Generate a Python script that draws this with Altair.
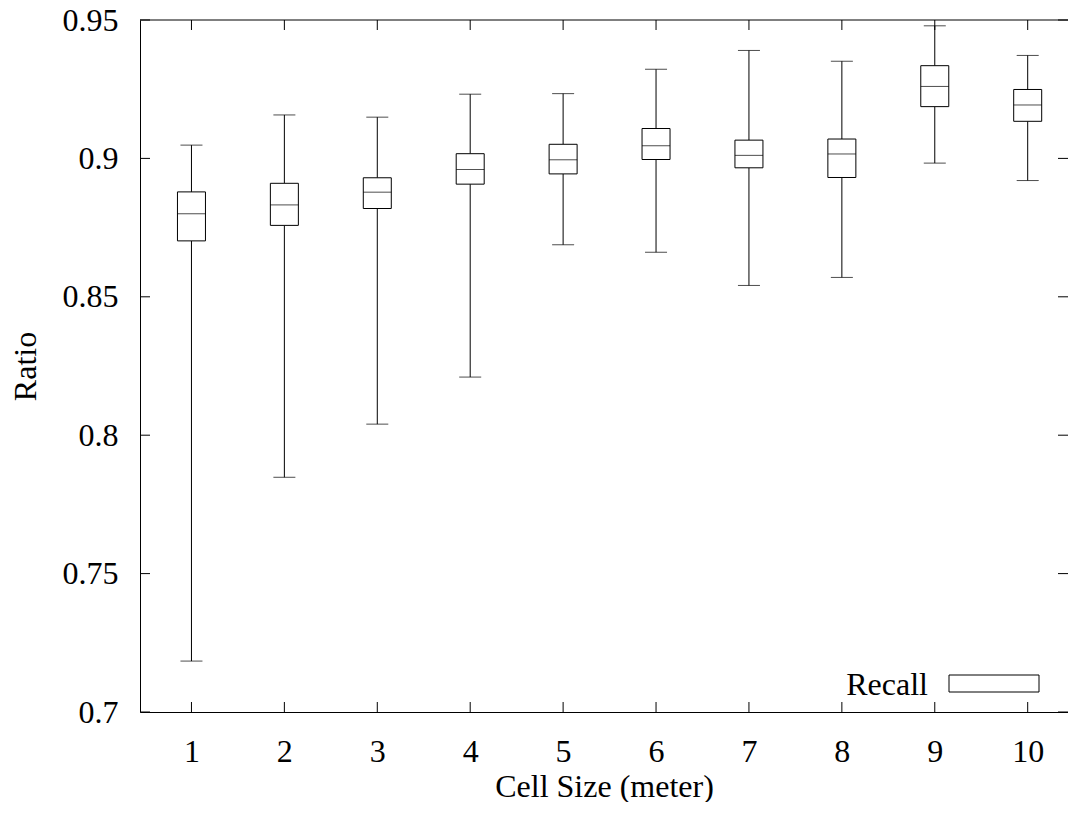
import altair as alt
import pandas as pd

# ---- data ----
cells = [1, 2, 3, 4, 5, 6, 7, 8, 9, 10]
whisker_low = [0.7184, 0.7848, 0.8040, 0.8210, 0.8688, 0.8661, 0.8541, 0.8570, 0.8983, 0.8920]
q1 = [0.8702, 0.8758, 0.8819, 0.8907, 0.8944, 0.8996, 0.8966, 0.8931, 0.9187, 0.9134]
median = [0.8800, 0.8832, 0.8878, 0.8960, 0.8995, 0.9046, 0.9011, 0.9016, 0.9260, 0.9193]
q3 = [0.8879, 0.8910, 0.8930, 0.9017, 0.9051, 0.9108, 0.9066, 0.9070, 0.9335, 0.9249]
whisker_high = [0.9048, 0.9157, 0.9149, 0.9232, 0.9234, 0.9322, 0.9390, 0.9351, 0.9479, 0.9372]
series_name = "Recall"
x_ticks = [1, 2, 3, 4, 5, 6, 7, 8, 9, 10]
y_ticks = [0.7, 0.75, 0.8, 0.85, 0.9, 0.95]
x_title = "Cell Size (meter)"
y_title = "Ratio"

W, H = 928, 692
FONT = "Liberation Serif"
FS = 32

df = pd.DataFrame({"cell": cells, "lo": whisker_low, "q1": q1, "med": median,
                   "q3": q3, "hi": whisker_high})
xt = pd.DataFrame({"t": x_ticks})
yt = pd.DataFrame({"v": y_ticks})
leg = pd.DataFrame({"label": [series_name]})

xs = alt.Scale(domain=[0.5, 10.38], nice=False, zero=False)
ys = alt.Scale(domain=[0.7, 0.95], nice=False, zero=False)

x_axis = alt.Axis(values=x_ticks, ticks=False, tickSize=0, grid=False, format="d",
                  domainColor="black", domainWidth=1,
                  labelFont=FONT, labelFontSize=FS, labelColor="black",
                  labelPadding=24, labelFlush=False,
                  title=x_title, titleFont=FONT, titleFontSize=FS,
                  titleFontWeight="normal", titleColor="black", titlePadding=4)
y_axis = alt.Axis(values=y_ticks, ticks=False, tickSize=0, grid=False,
                  domainColor="black", domainWidth=1, format="~g",
                  labelFont=FONT, labelFontSize=FS, labelColor="black",
                  labelPadding=22, labelFlush=False,
                  title=y_title, titleFont=FONT, titleFontSize=FS,
                  titleFontWeight="normal", titleColor="black", titlePadding=20)

base = alt.Chart(df)

whisk_lo = base.mark_rule(color="black", strokeWidth=1).encode(
    x=alt.X("cell:Q", scale=xs, axis=x_axis),
    y=alt.Y("lo:Q", scale=ys, axis=y_axis),
    y2="q1:Q")
whisk_hi = base.mark_rule(color="black", strokeWidth=1).encode(
    x=alt.X("cell:Q", scale=xs), y=alt.Y("q3:Q", scale=ys), y2="hi:Q")
boxes = base.mark_bar(size=28, fill="white", stroke="black", strokeWidth=1).encode(
    x=alt.X("cell:Q", scale=xs), y=alt.Y("q1:Q", scale=ys), y2="q3:Q")
meds = base.mark_tick(orient="horizontal", size=28, thickness=1, color="black").encode(
    x=alt.X("cell:Q", scale=xs), y=alt.Y("med:Q", scale=ys))
cap_hi = base.mark_tick(orient="horizontal", size=22, thickness=1, color="black").encode(
    x=alt.X("cell:Q", scale=xs), y=alt.Y("hi:Q", scale=ys))
cap_lo = base.mark_tick(orient="horizontal", size=22, thickness=1, color="black").encode(
    x=alt.X("cell:Q", scale=xs), y=alt.Y("lo:Q", scale=ys))

# frame top line and inward ticks (gnuplot style)
top_line = alt.Chart(leg).mark_rule(color="black", strokeWidth=1).encode(
    x=alt.value(0), x2=alt.value(W), y=alt.value(0))
xt_bottom = alt.Chart(xt).mark_rule(color="black", strokeWidth=1).encode(
    x=alt.X("t:Q", scale=xs), y=alt.value(H), y2=alt.value(H - 10))
xt_top = alt.Chart(xt).mark_rule(color="black", strokeWidth=1).encode(
    x=alt.X("t:Q", scale=xs), y=alt.value(0), y2=alt.value(10))
yt_left = alt.Chart(yt).mark_rule(color="black", strokeWidth=1).encode(
    y=alt.Y("v:Q", scale=ys), x=alt.value(0), x2=alt.value(10))
yt_right = alt.Chart(yt).mark_rule(color="black", strokeWidth=1).encode(
    y=alt.Y("v:Q", scale=ys), x=alt.value(W - 10), x2=alt.value(W))

# legend
leg_text = alt.Chart(leg).mark_text(align="right", baseline="alphabetic",
                                    font=FONT, fontSize=FS, color="black").encode(
    text="label:N", x=alt.value(788), y=alt.value(675))
leg_box = alt.Chart(leg).mark_rect(fill="white", stroke="black", strokeWidth=1).encode(
    x=alt.value(809), x2=alt.value(899), y=alt.value(655), y2=alt.value(672))

chart = alt.layer(
    whisk_lo, whisk_hi, boxes, meds, cap_hi, cap_lo,
    top_line, xt_bottom, xt_top, yt_left, yt_right, leg_text, leg_box
).properties(
    width=W, height=H,
    padding={"left": 132, "top": 12, "right": 0, "bottom": 90},
    autosize=alt.AutoSizeParams(type="none"),
    background="white",
).configure_view(stroke=None)

chart.save("out.html", embed_options={"renderer": "svg", "actions": False})
